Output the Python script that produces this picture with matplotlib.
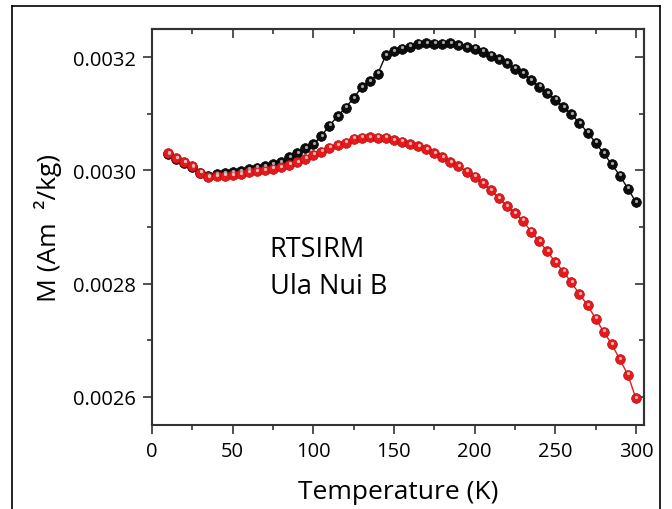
import matplotlib
matplotlib.use("Agg")
import matplotlib.pyplot as plt
from matplotlib.ticker import MultipleLocator, FormatStrFormatter
from matplotlib.transforms import offset_copy
from matplotlib.lines import Line2D

plt.rcParams["font.family"] = ["Open Sans", "DejaVu Sans"]

# Temperature steps (K)
temps = [10, 15, 20, 25, 30, 35, 40, 45, 50, 55, 60, 65, 70, 75, 80, 85, 90, 95,
         100, 105, 110, 115, 120, 125, 130, 135, 140, 145, 150, 155, 160, 165,
         170, 175, 180, 185, 190, 195, 200, 205, 210, 215, 220, 225, 230, 235,
         240, 245, 250, 255, 260, 265, 270, 275, 280, 285, 290, 295, 300]

# Magnetisation, cooling/warming branches (Am^2/kg)
m_black = [0.003029, 0.003021, 0.003014, 0.003006, 0.002996, 0.002990, 0.002993,
           0.002995, 0.002997, 0.002999, 0.003002, 0.003005, 0.003008, 0.003011,
           0.003015, 0.003024, 0.003031, 0.003039, 0.003046, 0.003061, 0.003079,
           0.003096, 0.003111, 0.003128, 0.003147, 0.003158, 0.003171, 0.003204,
           0.003211, 0.003215, 0.003219, 0.003224, 0.003225, 0.003224, 0.003224,
           0.003225, 0.003221, 0.003218, 0.003215, 0.003210, 0.003203, 0.003197,
           0.003190, 0.003180, 0.003172, 0.003159, 0.003148, 0.003137, 0.003125,
           0.003112, 0.003099, 0.003084, 0.003067, 0.003049, 0.003030, 0.003011,
           0.002991, 0.002968, 0.002944]

m_red = [0.003030, 0.003022, 0.003015, 0.003008, 0.002996, 0.002988, 0.002990,
         0.002991, 0.002992, 0.002994, 0.002997, 0.002999, 0.003000, 0.003003,
         0.003006, 0.003010, 0.003015, 0.003021, 0.003028, 0.003033, 0.003040,
         0.003045, 0.003049, 0.003056, 0.003058, 0.003059, 0.003058, 0.003058,
         0.003054, 0.003051, 0.003047, 0.003043, 0.003037, 0.003031, 0.003024,
         0.003015, 0.003008, 0.002998, 0.002989, 0.002977, 0.002965, 0.002951,
         0.002937, 0.002924, 0.002911, 0.002892, 0.002875, 0.002857, 0.002838,
         0.002821, 0.002802, 0.002781, 0.002762, 0.002738, 0.002715, 0.002693,
         0.002666, 0.002639, 0.002597]

fig = plt.figure(figsize=(6.72, 5.10), dpi=100)
ax = fig.add_axes([0.2262, 0.1647, 0.7321, 0.7765])

frame_col = "#333333"

# glossy "ball" markers: base dot plus a small light spot
shine = offset_copy(ax.transData, fig=fig, x=0.4, y=1.3, units="dots")
for m, base, edge, spot in [(m_black, "#0d0d0d", "#000000", "#a8a8a8"),
                            (m_red, "#e8191c", "#b01010", "#ffb8b8")]:
    ax.plot(temps, m, "-", color=base, lw=1.0, zorder=2)
    ax.plot(temps, m, "o", ms=7.0, mfc=base, mec=edge, mew=0.5, zorder=3)
    ax.plot(temps, m, "o", ms=2.3, mfc=spot, mec="none", zorder=4,
            transform=shine)

ax.set_xlim(0, 305)
ax.set_ylim(0.00255, 0.00325)

ax.xaxis.set_major_locator(MultipleLocator(50))
ax.xaxis.set_minor_locator(MultipleLocator(25))
ax.yaxis.set_major_locator(MultipleLocator(0.0002))
ax.yaxis.set_minor_locator(MultipleLocator(0.0001))
ax.yaxis.set_major_formatter(FormatStrFormatter("%.4f"))

ax.tick_params(which="both", direction="out", width=1.2, color=frame_col,
               labelsize=14.5, pad=5)
ax.tick_params(which="major", length=6.5)
ax.tick_params(which="minor", length=3.5)

# inward ticks on the top and right edges
top = ax.secondary_xaxis("top")
right = ax.secondary_yaxis("right")
for sec, loc_maj, loc_min in [(top, 50, 25), (right, 0.0002, 0.0001)]:
    ax_ = sec.xaxis if sec is top else sec.yaxis
    ax_.set_major_locator(MultipleLocator(loc_maj))
    ax_.set_minor_locator(MultipleLocator(loc_min))
    sec.tick_params(which="both", direction="in", width=1.2, color=frame_col,
                    labeltop=False, labelright=False)
    sec.tick_params(which="major", length=6.5)
    sec.tick_params(which="minor", length=3.5)
    for sp in sec.spines.values():
        sp.set_linewidth(1.5)
        sp.set_color(frame_col)

for sp in ax.spines.values():
    sp.set_linewidth(1.5)
    sp.set_color(frame_col)

ax.set_xlabel("Temperature (K)", fontsize=19, labelpad=13)
ax.set_ylabel("M (Am  \u00b2/kg)", fontsize=19, labelpad=8)

ax.text(73, 0.002886, "RTSIRM\nUla Nui B", fontsize=19.5, va="top",
        ha="left", linespacing=1.45)

# thin border around the whole figure
for xs, ys in [([0.0179, 0.0179], [-0.01, 0.9863]),
               ([0.0179, 0.9821], [0.9863, 0.9863]),
               ([0.9821, 0.9821], [-0.01, 0.9863])]:
    fig.add_artist(Line2D(xs, ys, transform=fig.transFigure, color="black",
                          lw=1.2))

fig.savefig("out.png", dpi=100)
